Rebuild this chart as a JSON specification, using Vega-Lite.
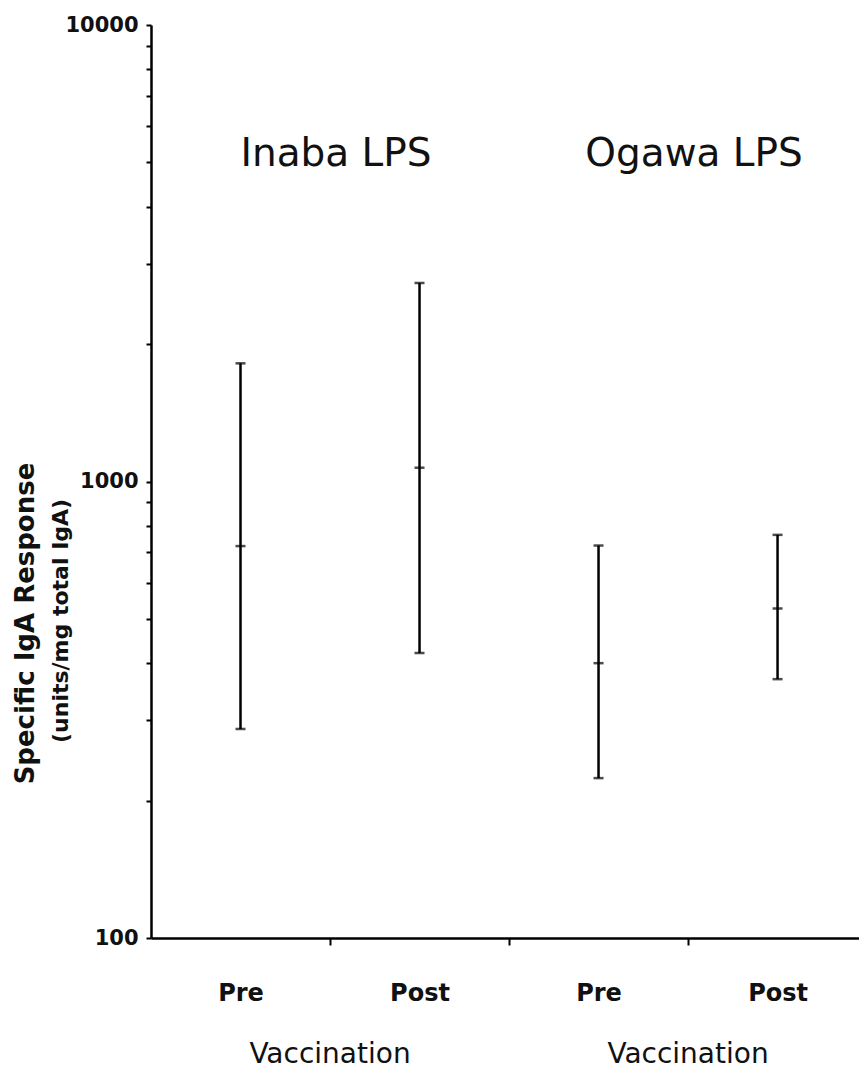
{
  "$schema": "https://vega.github.io/schema/vega-lite/v6.json",
  "width": 708,
  "height": 913,
  "autosize": "none",
  "padding": {"left": 151, "top": 25, "right": 0, "bottom": 131},
  "background": "white",
  "config": {"view": {"stroke": null}, "font": "DejaVu Sans"},
  "data": {
    "values": [
      {"antigen": "Inaba LPS", "phase": "Pre", "pos": 0.5, "low": 287, "mid": 722, "high": 1815},
      {"antigen": "Inaba LPS", "phase": "Post", "pos": 1.5, "low": 421, "mid": 1072, "high": 2722},
      {"antigen": "Ogawa LPS", "phase": "Pre", "pos": 2.5, "low": 224, "mid": 400, "high": 724},
      {"antigen": "Ogawa LPS", "phase": "Post", "pos": 3.5, "low": 369, "mid": 527, "high": 764}
    ]
  },
  "encoding": {
    "x": {
      "field": "pos",
      "type": "quantitative",
      "scale": {"domain": [0, 3.955], "nice": false, "zero": false},
      "axis": {
        "title": null,
        "grid": false,
        "values": [0.5, 1, 1.5, 2, 2.5, 3, 3.5],
        "labelExpr": "datum.value == 0.5 || datum.value == 2.5 ? 'Pre' : (datum.value == 1.5 || datum.value == 3.5 ? 'Post' : '')",
        "tickOpacity": {"condition": {"test": "datum.value % 1 === 0", "value": 1}, "value": 0},
        "tickSize": 7,
        "tickWidth": 2,
        "tickColor": "black",
        "domainColor": "black",
        "domainWidth": 2.5,
        "labelFont": "DejaVu Sans",
        "labelFontSize": 24,
        "labelFontWeight": "bold",
        "labelColor": "#111",
        "labelBaseline": "alphabetic",
        "labelPadding": 55,
        "labelFlush": false,
        "labelOverlap": false
      }
    }
  },
  "layer": [
    {
      "mark": {"type": "rule", "color": "black", "strokeWidth": 2.5},
      "encoding": {
        "y": {
          "field": "low",
          "type": "quantitative",
          "scale": {"type": "log", "domain": [100, 10000], "nice": false},
          "axis": {
            "title": "Specific IgA Response",
            "titleFont": "DejaVu Sans",
            "titleFontSize": 26,
            "titleFontWeight": "bold",
            "titleColor": "#111",
            "titleAngle": 270,
            "titleAlign": "center",
            "titleBaseline": "middle",
            "titleX": -126,
            "titleY": 598,
            "grid": false,
            "values": [100, 200, 300, 400, 500, 600, 700, 800, 900, 1000, 2000, 3000, 4000, 5000, 6000, 7000, 8000, 9000, 10000],
            "labelExpr": "datum.value == 100 || datum.value == 1000 || datum.value == 10000 ? datum.value : ''",
            "tickSize": 5,
            "tickWidth": 2,
            "tickColor": "black",
            "domainColor": "black",
            "domainWidth": 2.5,
            "labelFont": "DejaVu Sans",
            "labelFontSize": 21,
            "labelFontWeight": "bold",
            "labelColor": "#111",
            "labelPadding": 8,
            "labelFlush": false,
            "labelOverlap": false
          }
        },
        "y2": {"field": "high"}
      }
    },
    {
      "transform": [{"fold": ["low", "mid", "high"], "as": ["k", "v"]}],
      "mark": {"type": "tick", "orient": "horizontal", "size": 10, "thickness": 2.5, "color": "black"},
      "encoding": {
        "y": {"field": "v", "type": "quantitative"}
      }
    },
    {
      "mark": {"type": "text", "font": "DejaVu Sans", "fontSize": 39, "baseline": "alphabetic", "align": "center", "color": "#111", "dx": 6},
      "encoding": {
        "x": {"aggregate": "mean", "field": "pos", "type": "quantitative"},
        "y": {"datum": 4900},
        "text": {"field": "antigen"}
      }
    },
    {
      "mark": {"type": "text", "font": "DejaVu Sans", "fontSize": 28, "baseline": "alphabetic", "align": "center", "color": "#111"},
      "encoding": {
        "x": {"aggregate": "mean", "field": "pos", "type": "quantitative"},
        "y": {"datum": 53.2},
        "detail": {"field": "antigen"},
        "text": {"value": "Vaccination"}
      }
    },
    {
      "transform": [{"filter": "datum.pos == 0.5"}],
      "mark": {"type": "text", "font": "DejaVu Sans", "fontSize": 22, "fontWeight": "bold", "angle": 270, "baseline": "middle", "align": "center", "color": "#111"},
      "encoding": {
        "x": {"datum": -0.5},
        "y": {"datum": 495},
        "text": {"value": "(units/mg total IgA)"}
      }
    }
  ]
}
